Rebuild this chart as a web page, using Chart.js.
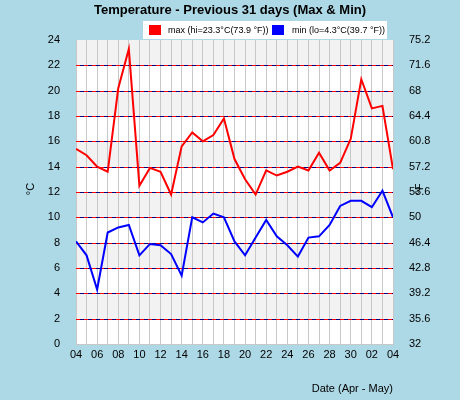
<!DOCTYPE html>
<html>
<head>
<meta charset="utf-8">
<script src="https://cdn.jsdelivr.net/npm/chart.js@4"></script>
<style>
  body { margin: 0; background: #add8e6; font-family: "Liberation Sans", Arial, sans-serif; }
  #wrap { position: relative; width: 460px; height: 400px; }
  .txt { position: absolute; color: #000; }
  #titulo { left: 0; width: 460px; top: 2px; text-align: center; font-weight: bold; font-size: 13px; }
  #legenda { left: 143px; top: 21px; width: 244px; height: 18px; background: #fff; font-size: 9px; }
  .sq { position: absolute; top: 4px; width: 12px; height: 10px; }
</style>
</head>
<body>
<div id="wrap">
  <canvas id="grafico" width="460" height="400"></canvas>
  <div class="txt" id="titulo">Temperature - Previous 31 days (Max &amp; Min)</div>
  <div class="txt" id="legenda">
    <div class="sq" style="left:6px;background:#f00"></div>
    <span style="position:absolute;left:25px;top:4px">max (hi=23.3°C(73.9 °F))</span>
    <div class="sq" style="left:129px;background:#00f"></div>
    <span style="position:absolute;left:149px;top:4px">min (lo=4.3°C(39.7 °F))</span>
  </div>
  <div class="txt" style="left:24px;top:183px;font-size:11px;transform:rotate(-90deg)">°C</div>
  <div class="txt" style="left:413px;top:183px;font-size:11px;transform:rotate(-90deg)">°F</div>
</div>
<script>
// datas: 04 abr -> 04 mai
const dias = ["04","05","06","07","08","09","10","11","12","13","14","15","16","17","18","19","20","21","22","23","24","25","26","27","28","29","30","01","02","03","04"];
const maxima = [15.4,14.9,14.0,13.6,20.2,23.3,12.5,13.9,13.6,11.8,15.6,16.7,16.0,16.5,17.8,14.6,13.0,11.8,13.7,13.3,13.6,14.0,13.7,15.1,13.7,14.3,16.2,20.9,18.6,18.8,13.8];
const minima = [8.1,7.0,4.3,8.8,9.2,9.4,7.0,7.9,7.8,7.1,5.4,10.0,9.6,10.3,10.0,8.1,7.0,8.4,9.8,8.5,7.8,6.9,8.4,8.5,9.4,10.9,11.3,11.3,10.8,12.1,10.0];
const ticksF = [32,35.6,39.2,42.8,46.4,50,53.6,57.2,60.8,64.4,68,71.6,75.2];

const fonte = { family: "Liberation Sans", size: 11 };

const fundo = {
  id: "fundo",
  beforeDraw(chart) {
    const { ctx, chartArea: a, scales: { y } } = chart;
    ctx.save();
    ctx.fillStyle = "#fff";
    ctx.fillRect(a.left, a.top, a.right - a.left, a.bottom - a.top);
    ctx.fillStyle = "#f2f2f2";
    for (let v = 2; v < 24; v += 4) {
      const t = y.getPixelForValue(v + 2), b = y.getPixelForValue(v);
      ctx.fillRect(a.left, t, a.right - a.left, b - t);
    }
    ctx.restore();
  },
  beforeDatasetsDraw(chart) {
    const { ctx, chartArea: a, scales: { y } } = chart;
    ctx.save();
    ctx.lineWidth = 1;
    for (let v = 2; v < 24; v += 2) {
      const py = Math.round(y.getPixelForValue(v)) + 0.5;
      for (let x = a.left, k = 0; x < a.right; x += 4, k++) {
        ctx.strokeStyle = k % 2 ? "#000080" : "#ff0000";
        ctx.beginPath();
        ctx.moveTo(x, py);
        ctx.lineTo(Math.min(x + 4, a.right), py);
        ctx.stroke();
      }
    }
    ctx.restore();
  }
};

new Chart(document.getElementById("grafico"), {
  type: "line",
  data: {
    datasets: [
      { data: maxima.map((v, i) => ({ x: i, y: v })), borderColor: "#ff0000", borderWidth: 2, pointRadius: 0, tension: 0 },
      { data: minima.map((v, i) => ({ x: i, y: v })), borderColor: "#0000ff", borderWidth: 2, pointRadius: 0, tension: 0 }
    ]
  },
  options: {
    responsive: false,
    animation: false,
    layout: { padding: { top: 40 } },
    plugins: { legend: { display: false }, tooltip: { enabled: false } },
    scales: {
      x: {
        type: "linear", min: 0, max: 30,
        ticks: { stepSize: 1, autoSkip: false, maxRotation: 0, color: "#000", font: fonte, padding: 4,
          callback: v => v % 2 === 0 ? dias[v] : "" },
        grid: { color: "#c8c8c8", drawTicks: false },
        border: { color: "#c8c8c8" },
        title: { display: true, text: "Date (Apr - May)", align: "end", color: "#000", font: fonte, padding: { top: 2 } },
        afterFit: s => { s.height = 56; }
      },
      y: {
        min: 0, max: 24,
        ticks: { stepSize: 2, color: "#000", font: fonte, padding: 8 },
        grid: { display: false },
        border: { color: "#c8c8c8" },
        afterFit: s => { s.width = 76; }
      },
      y2: {
        position: "right", min: 32, max: 75.2,
        afterBuildTicks: s => { s.ticks = ticksF.map(v => ({ value: v })); },
        ticks: { color: "#000", font: fonte, padding: 8, callback: v => String(v) },
        grid: { display: false },
        border: { color: "#c8c8c8" },
        afterFit: s => { s.width = 67; }
      }
    }
  },
  plugins: [fundo]
});
</script>
</body>
</html>
